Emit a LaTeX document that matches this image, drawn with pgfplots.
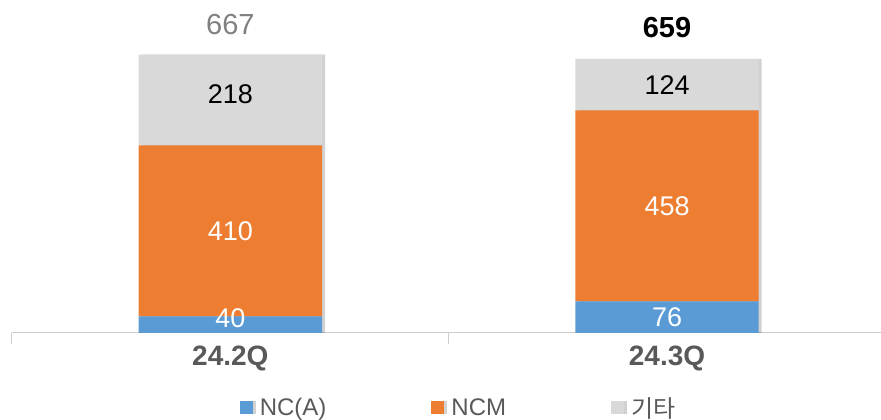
\documentclass[border=0pt]{standalone}
\usepackage{pgfplots}
\pgfplotsset{compat=1.18}
\usepackage{fontspec}
\setmainfont{Liberation Sans}
\newfontfamily\cjk{Noto Sans CJK KR}
\definecolor{cblue}{HTML}{5B9BD5}
\definecolor{corange}{HTML}{ED7D31}
\definecolor{cgray}{HTML}{D9D9D9}
\definecolor{txtgray}{HTML}{595959}
\definecolor{totgray}{HTML}{808080}
\tikzset{barshadow/.style={preaction={fill=black, opacity=0.18, transform canvas={xshift=3pt}}},
  seglab/.style={font=\fontsize{27}{30}\selectfont}}
\begin{document}
\begin{tikzpicture}
\path[use as bounding box] (-12pt,-87pt) rectangle (869pt,333pt);
\begin{axis}[
  at={(0pt,0pt)}, anchor=south west,
  scale only axis, width=869pt, height=333pt,
  xmin=-0.5, xmax=1.49, ymin=0, ymax=799,
  ybar stacked, bar width=0.42,
  axis y line=none, axis x line*=bottom,
  x axis line style={draw=black!20, line width=1pt},
  xtick={0,1}, xticklabels={24.2Q,24.3Q},
  major tick length=0pt, tick align=outside,
  xticklabel style={font=\bfseries\fontsize{28}{30}\selectfont, text=txtgray, inner sep=0pt, anchor=north, yshift=-13pt},
  extra x ticks={-0.5,0.5,1.49}, extra x tick labels={},
  extra x tick style={major tick length=11pt, tick align=outside, tick style={draw=black!20, line width=1pt}},
  clip=false,
  legend columns=3,
  legend image code/.code={\fill[#1] (0pt,-6.5pt) rectangle (13pt,6.5pt);},
  legend style={draw=none, fill=none, at={(axis description cs:0.2585,-0.225)}, anchor=west,
    font=\fontsize{24}{28}\selectfont, text=txtgray,
    /tikz/every odd column/.append style={column sep=5pt},
    /tikz/every even column/.append style={column sep=103pt},
    nodes={inner sep=2pt}},
]
\addplot[fill=cblue, draw=none, barshadow] coordinates {(0,40) (1,76)};
\addlegendentry{NC(A)}
\addplot[fill=corange, draw=none, barshadow] coordinates {(0,410) (1,458)};
\addlegendentry{NCM}
\addplot[fill=cgray, draw=none, barshadow] coordinates {(0,218) (1,124)};
\addlegendentry{{\cjk 기타}}
\coordinate (l1) at (axis cs:0,36);
\coordinate (l2) at (axis cs:0,245);
\coordinate (l3) at (axis cs:0,573);
\coordinate (l4) at (axis cs:1,38);
\coordinate (l5) at (axis cs:1,305);
\coordinate (l6) at (axis cs:1,596);
\coordinate (t1) at (axis cs:0,739);
\coordinate (t2) at (axis cs:1,734);
\end{axis}
\node[seglab, text=white] at (l1) {40};
\node[seglab, text=white] at (l2) {410};
\node[seglab, text=black] at (l3) {218};
\node[seglab, text=white] at (l4) {76};
\node[seglab, text=white] at (l5) {458};
\node[seglab, text=black] at (l6) {124};
\node[text=totgray, font=\fontsize{29}{32}\selectfont] at (t1) {667};
\node[text=black, font=\bfseries\fontsize{29}{32}\selectfont] at (t2) {659};
\end{tikzpicture}
\end{document}
